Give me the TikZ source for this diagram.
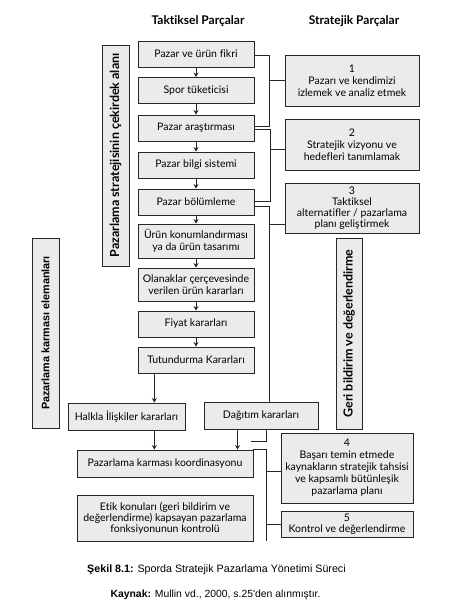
\documentclass[tikz,border=0pt]{standalone}
\usepackage{fontspec}
\setmainfont{Lato}[Ligatures=NoCommon]
\newfontfamily\capfont{Liberation Sans}
\usetikzlibrary{arrows.meta}
\definecolor{boxfill}{HTML}{EBEBEB}
\definecolor{edge}{HTML}{262626}
\begin{document}
\begin{tikzpicture}[x=1pt,y=-1pt,
  box/.style={draw=edge, fill=boxfill, line width=0.9pt, inner sep=1pt, align=center,
              font=\fontsize{10.5}{11.8}\selectfont},
  lbox/.style={box, minimum width=116, minimum height=26},
  sbox/.style={box, minimum width=134},
  vbar/.style={box, rotate=90, font=\bfseries\fontsize{12.5}{13}\selectfont},
  ln/.style={draw=edge, line width=0.9pt},
  arr/.style={ln, -{Stealth[length=4.5pt,width=5pt]}},
  head/.style={font=\bfseries\fontsize{12}{14}\selectfont}
]
\useasboundingbox (0,0) rectangle (457,605);

% headers
\node[head] (h1) at (198,21.5) {Taktiksel Parçalar};
\node[head] (h2) at (354,21.5) {Stratejik Parçalar};

% left column
\node[lbox] (n1) at (196,54) {Pazar ve ürün fikri};
\node[lbox] (n2) at (196,90.5) {Spor tüketicisi};
\node[lbox] (n3) at (196,128) {Pazar araştırması};
\node[lbox] (n4) at (196,165) {Pazar bilgi sistemi};
\node[lbox] (n5) at (196,202) {Pazar bölümleme};
\node[lbox, minimum height=34] (n6) at (196,241) {Ürün konumlandırması\\ya da ürün tasarımı};
\node[lbox, minimum height=33] (n7) at (196,284.5) {Olanaklar çerçevesinde\\verilen ürün kararları};
\node[lbox] (n8) at (196,324) {Fiyat kararları};
\node[lbox] (n9) at (196,360) {Tutundurma Kararları};

% vertical bars
\node[vbar, minimum width=221, minimum height=27] (cek) at (115.5,155.5) {Pazarlama stratejisinin çekirdek alanı};
\node[vbar, minimum width=190, minimum height=27, font=\capfont\bfseries\fontsize{10.8}{13}\selectfont] (karma) at (45.5,333) {Pazarlama karması elemanları};
\node[vbar, minimum width=191, minimum height=26] (geri) at (349,333.5) {Geri bildirim ve değerlendirme};

% right column
\node[sbox, minimum height=51] (s1) at (352,80.5) {1\\Pazarı ve kendimizi\\izlemek ve analiz etmek};
\node[sbox, minimum height=51] (s2) at (352,144.5) {2\\Stratejik vizyonu ve\\hedefleri tanımlamak};
\node[sbox, minimum height=50, font=\fontsize{10.5}{10.8}\selectfont] (s3) at (352,208) {3\\Taktiksel\\alternatifler / pazarlama\\planı geliştirmek};
\node[box, minimum width=132, minimum height=70, font=\fontsize{10.5}{12}\selectfont] (s4) at (347,468) {4\\Başarı temin etmede\\kaynakların stratejik tahsisi\\ve kapsamlı bütünleşik\\pazarlama planı};
\node[box, minimum width=132, minimum height=26, font=\fontsize{10.5}{10.5}\selectfont] (s5) at (347,524) {5\\Kontrol ve değerlendirme};

% bottom left
\node[box, minimum width=117, minimum height=27] (halk) at (126.5,416.5) {Halkla İlişkiler kararları};
\node[box, minimum width=114, minimum height=27] (dag) at (261,415.5) {Dağıtım kararları};
\node[box, minimum width=176, minimum height=27] (koord) at (165,463.5) {Pazarlama karması koordinasyonu};
\node[box, minimum width=176, minimum height=46, font=\fontsize{10.5}{11}\selectfont] (etik) at (165,518) {Etik konuları (geri bildirim ve\\değerlendirme) kapsayan pazarlama\\fonksiyonunun kontrolü};

% caption
\node[font=\capfont\fontsize{10.7}{12}\selectfont] (cap1) at (216.5,570) {\textbf{Şekil 8.1:} Sporda Stratejik Pazarlama Yönetimi Süreci};
\node[font=\capfont\fontsize{10.4}{12}\selectfont] (cap2) at (215.5,594.5) {\textbf{Kaynak:} Mullin vd., 2000, s.25'den alınmıştır.};

% coordinates
\coordinate (j1) at (269.5,126.5);
\coordinate (j2) at (270,201.7);
\coordinate (hx) at (154.3,0);
\coordinate (dx) at (237.5,0);
\coordinate (kx) at (266,0);
\coordinate (st) at (251,441);

% arrows in left column
\draw[arr] (n1.south) -- (n2.north);
\draw[arr] (n2.south) -- (n3.north);
\draw[arr] (n3.south) -- (n4.north);
\draw[arr] (n4.south) -- (n5.north);
\draw[arr] (n5.south) -- (n6.north);
\draw[arr] (n6.south) -- (n7.north);
\draw[arr] (n7.south) -- (n8.north);
\draw[arr] (n8.south) -- (n9.north);

% brackets
\draw[ln] ([yshift=-1.5pt]n1.east) -| (j1) -- ([yshift=1.5pt]n3.east);
\draw[ln] (s1.west) -- (s1.west -| j1);
\draw[ln] ([yshift=-1.5pt]n3.east) -| (j2) -- ([yshift=0.3pt]n5.east);
\draw[ln] ([yshift=-4.5pt]s2.west) -- ++(-15,0);
\draw[ln] ([yshift=-4pt]n5.east) -| ([xshift=8pt]dag.north);
\draw[ln] ([yshift=-16pt]s3.west) -- ++(-15.5,0);

% bottom connectors
\draw[arr] (n9.south -| hx) -- (halk.north -| hx);
\draw[arr] (halk.south -| hx) -- (koord.north -| hx);
\draw[arr] (dag.south -| dx) -- (koord.north -| dx);
\draw[ln] (dag.south -| kx) |- (st);
\draw[ln] (koord.north east) -| (etik.south -| kx);
\draw[ln] ([yshift=-3pt]s4.west) -- ++(-15,0);
\draw[ln] (s5.west) -- ++(-15,0);
\end{tikzpicture}
\end{document}
